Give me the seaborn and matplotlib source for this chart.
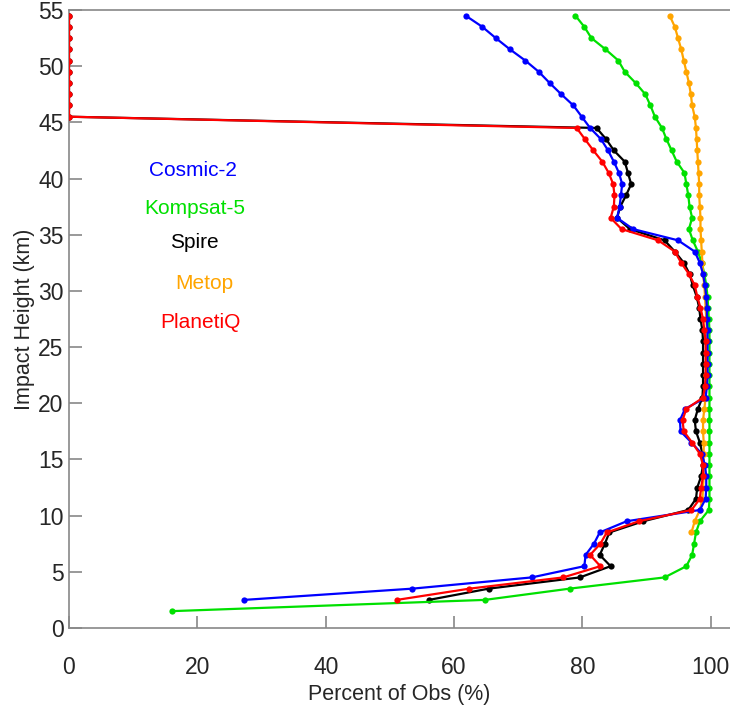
import numpy as np
import pandas as pd
import matplotlib
matplotlib.use("Agg")
import matplotlib.pyplot as plt
import seaborn as sns

# ---------------- data ----------------
heights_full = [54.5 - i for i in range(53)]          # 54.5 ... 2.5
heights_green = [54.5 - i for i in range(54)]         # 54.5 ... 1.5
heights_orange = [54.5 - i for i in range(47)]        # 54.5 ... 8.5

cosmic2 = [61.8, 64.4, 66.5, 68.7, 71.1, 73.2, 74.9, 76.7, 78.6, 79.9,
           81.2, 82.9, 84.0, 84.9, 85.7, 86.2, 86.0, 85.8, 85.4, 87.9,
           94.9, 97.5, 98.3, 98.8, 99.1, 99.3, 99.4, 99.4, 99.5, 99.5,
           99.5, 99.5, 99.5, 99.4, 99.2, 96.0, 95.2, 95.3, 97.0, 98.6,
           99.1, 99.3, 99.3, 99.2, 98.3, 86.9, 82.7, 81.8, 80.5, 80.3,
           72.1, 53.5, 27.3]

spire = [0, 0, 0, 0, 0, 0, 0, 0, 0, 0,
         82.2, 83.7, 84.9, 86.6, 87.1, 87.6, 86.8, 85.9, 85.4, 87.4,
         92.8, 94.4, 95.8, 96.7, 97.2, 97.8, 98.2, 98.4, 98.7, 98.8,
         98.8, 98.8, 98.8, 98.8, 98.7, 98.0, 97.5, 97.7, 98.3, 98.7,
         98.8, 98.5, 97.9, 97.7, 96.5, 89.5, 84.2, 83.5, 82.7, 84.4,
         79.6, 65.4, 56.1]

planetiq = [0, 0, 0, 0, 0, 0, 0, 0, 0, 0,
            79.1, 80.4, 81.7, 83.1, 84.1, 84.8, 85.0, 84.9, 84.4, 86.1,
            91.8, 94.4, 95.4, 96.6, 97.5, 97.9, 98.4, 98.8, 99.0, 99.2,
            99.2, 99.2, 99.2, 99.1, 98.8, 96.2, 95.6, 95.8, 97.1, 98.3,
            98.8, 98.8, 98.5, 98.3, 97.0, 88.8, 83.8, 82.8, 81.2, 82.8,
            77.0, 62.4, 51.1]

kompsat5 = [78.9, 80.3, 81.4, 83.6, 85.6, 86.6, 88.3, 89.8, 90.6, 91.3,
            92.4, 93.1, 93.9, 94.7, 95.9, 96.2, 96.5, 96.7, 97.1, 96.6,
            97.2, 98.0, 98.6, 99.0, 99.3, 99.5, 99.6, 99.7, 99.8, 99.8,
            99.8, 99.8, 99.8, 99.8, 99.8, 99.8, 99.8, 99.8, 99.8, 99.8,
            99.8, 99.8, 99.8, 99.8, 99.7, 98.3, 97.7, 97.4, 97.1, 96.2,
            92.8, 78.0, 64.8, 16.1]

metop = [93.6, 94.4, 94.9, 95.4, 95.8, 96.2, 96.6, 96.9, 97.1, 97.5,
         97.7, 97.8, 97.9, 98.0, 98.1, 98.2, 98.2, 98.3, 98.4, 98.4,
         98.5, 98.6, 98.7, 98.8, 99.0, 99.1, 99.2, 99.3, 99.4, 99.4,
         99.4, 99.4, 99.3, 99.3, 99.2, 99.0, 98.8, 98.8, 98.9, 98.9,
         98.9, 98.9, 98.8, 98.7, 98.3, 97.5, 97.0]

labels = ["Cosmic-2", "Kompsat-5", "Spire", "Metop", "PlanetiQ"]
colors = ["#0000ff", "#00e000", "#000000", "#ffa500", "#ff0000"]
x_ticks = [0, 20, 40, 60, 80, 100]
y_ticks = [0, 5, 10, 15, 20, 25, 30, 35, 40, 45, 50, 55]

series = {
    "Cosmic-2": (cosmic2, heights_full),
    "Kompsat-5": (kompsat5, heights_green),
    "Spire": (spire, heights_full),
    "Metop": (metop, heights_orange),
    "PlanetiQ": (planetiq, heights_full),
}

# ---------------- plot ----------------
sns.set_style("ticks")
plt.rcParams["font.family"] = ["Liberation Sans", "DejaVu Sans"]

fig = plt.figure(figsize=(7.3, 7.12), dpi=100)
ax = fig.add_axes([0.0945, 0.118, 0.9055, 0.868])

draw_order = ["Spire", "Kompsat-5", "Metop", "Cosmic-2", "PlanetiQ"]
for name in draw_order:
    vals, hts = series[name]
    df = pd.DataFrame({"pct": vals, "h": hts})
    c = colors[labels.index(name)]
    sns.lineplot(data=df, x="pct", y="h", orient="y", ax=ax, color=c,
                 linewidth=1.6, marker="o", markersize=4.5,
                 markeredgewidth=0, markerfacecolor=c, zorder=3)

ax.set_xlim(0, 103)
ax.set_ylim(0, 55)
ax.set_xticks(x_ticks)
ax.set_yticks(y_ticks)
ax.set_xlabel("Percent of Obs (%)", fontsize=15.5, labelpad=4)
ax.set_ylabel("Impact Height (km)", fontsize=15.5, labelpad=2)

for s in ["left", "bottom", "top"]:
    ax.spines[s].set_color("#888888")
    ax.spines[s].set_linewidth(1.2)
    ax.spines[s].set_zorder(1)
ax.spines["right"].set_visible(False)
ax.tick_params(axis="both", direction="in", length=9, width=1.2,
               color="#888888", labelsize=16.5)
ax.tick_params(axis="x", pad=20)
ax.tick_params(axis="y", pad=4)

pos = [(0.188, 0.741), (0.190, 0.679), (0.190, 0.623), (0.205, 0.558), (0.199, 0.495)]
for lab, col, (px, py) in zip(labels, colors, pos):
    ax.text(px, py, lab, color=col, fontsize=15, ha="center", va="center",
            transform=ax.transAxes)

fig.savefig("out.png", dpi=100)
